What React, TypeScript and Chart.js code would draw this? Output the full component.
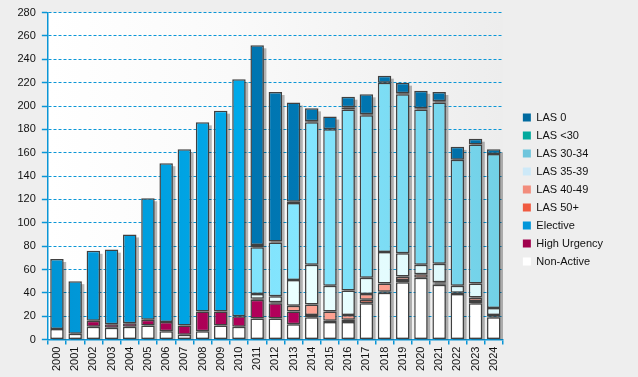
import React, { useEffect, useRef } from "react";
import { Chart, registerables } from "chart.js";

Chart.register(...registerables);

const YEARS = ["2000","2001","2002","2003","2004","2005","2006","2007","2008","2009","2010","2011","2012","2013","2014","2015","2016","2017","2018","2019","2020","2021","2022","2023","2024"];
const Y_TICKS = [0, 20, 40, 60, 80, 100, 120, 140, 160, 180, 200, 220, 240, 260, 280];

const NON_ACTIVE   = [9, 5, 11, 10, 11, 12, 7, 4, 7, 12, 11, 18, 18, 13, 19, 15, 15, 31, 40, 49, 53, 47, 39, 31, 19];
const HIGH_URGENCY = [0, 0, 5, 3, 3, 5, 8, 8, 17, 12, 9, 16, 13, 11, 0, 0, 0, 0, 0, 0, 0, 0, 1, 0, 0];
const ELECTIVE     = [60, 45, 60, 64, 76, 104, 136, 151, 162, 172, 203, 1, 1, 0, 0, 0, 0, 0, 0, 0, 0, 0, 0, 0, 0];
const LAS_50_PLUS  = [0, 0, 0, 0, 0, 0, 0, 0, 0, 0, 0, 0, 0, 0, 2, 1, 2, 3, 1, 2, 0, 1, 0, 2, 1];
const LAS_40_49    = [0, 0, 0, 0, 0, 0, 0, 0, 0, 0, 0, 0, 0, 5, 9, 8, 4, 5, 7, 3, 3, 1, 0, 3, 1];
const LAS_35_39    = [0, 0, 0, 0, 0, 0, 0, 0, 0, 0, 0, 4, 5, 22, 34, 22, 21, 14, 27, 20, 8, 16, 6, 12, 6];
const LAS_30_34    = [0, 0, 0, 0, 0, 0, 0, 0, 0, 0, 0, 40, 46, 66, 122, 134, 155, 139, 145, 136, 133, 138, 108, 119, 132];
const LAS_UNDER_30 = [0, 0, 0, 0, 0, 0, 0, 0, 0, 0, 0, 2, 1, 1, 1, 0, 2, 1, 0, 1, 1, 1, 0, 0, 0];
const LAS_0        = [0, 0, 0, 0, 0, 0, 0, 0, 0, 0, 0, 171, 128, 85, 11, 11, 9, 17, 6, 9, 15, 8, 11, 5, 4];

const SERIES_LABELS = ["Non-Active", "High Urgency", "Elective", "LAS 50+", "LAS 40-49", "LAS 35-39", "LAS 30-34", "LAS <30", "LAS 0"];
const SERIES_VALUES = [NON_ACTIVE, HIGH_URGENCY, ELECTIVE, LAS_50_PLUS, LAS_40_49, LAS_35_39, LAS_30_34, LAS_UNDER_30, LAS_0];

const BAR_SHADES = [
  ["#FFFFFF", "#FFFFFF", "#FFFFFF"],
  ["#A0004E", "#B4005C", "#A80054"],
  ["#0094D4", "#00B0F0", "#00A6E4"],
  ["#F05A3C", "#FF6444", "#F45C40"],
  ["#F49484", "#FFA393", "#F89888"],
  ["#E6FAFF", "#EAFFFF", "#DCF8FC"],
  ["#74D4EC", "#84E6FF", "#72D0E6"],
  ["#00A89C", "#00BCB0", "#00A89C"],
  ["#0068A0", "#0078B4", "#006EA6"],
];
const LEGEND_COLORS = ["#FFFFFF", "#A0004C", "#0096DA", "#F05A40", "#F28C7C", "#CDE9F8", "#6EC5DC", "#00A99D", "#006A9F"];

const FONT = "'Liberation Sans', Arial, sans-serif";
const AXIS_BLUE = "#0A96D6";

const bgPlugin = {
  id: "bgPlugin",
  beforeDraw(chart: any) {
    const { ctx, chartArea } = chart;
    if (!chartArea) return;
    ctx.save();
    ctx.fillStyle = "#EEEEEE";
    ctx.fillRect(0, 0, chart.width, chart.height);
    const g = ctx.createLinearGradient(chartArea.left, 0, chartArea.right, 0);
    g.addColorStop(0, "#FFFFFF");
    g.addColorStop(0.4, "#FAFAFA");
    g.addColorStop(1, "#EDEDED");
    ctx.fillStyle = g;
    ctx.fillRect(chartArea.left, chartArea.top, chartArea.right - chartArea.left, chartArea.bottom - chartArea.top);
    ctx.restore();
  },
};

const shadowPlugin = {
  id: "shadowPlugin",
  beforeDatasetsDraw(chart: any) {
    const { ctx } = chart;
    const y = chart.scales.y;
    const meta = chart.getDatasetMeta(0);
    ctx.save();
    ctx.fillStyle = "rgba(0,0,0,0.28)";
    meta.data.forEach((el: any, i: number) => {
      let total = 0;
      chart.data.datasets.forEach((ds: any) => { total += ds.data[i] || 0; });
      const top = y.getPixelForValue(total);
      const bottom = y.getPixelForValue(0);
      const w = el.width;
      ctx.fillRect(el.x - w / 2 + 2.5, top + 3, w, bottom - top - 3);
    });
    ctx.restore();
  },
};

export default function App() {
  const ref = useRef<HTMLCanvasElement | null>(null);
  useEffect(() => {
    document.body.style.margin = "0";
    document.body.style.background = "#EEEEEE";
    const canvas = ref.current!;
    const datasets = SERIES_LABELS.map((label, i) => ({
      label,
      data: SERIES_VALUES[i],
      backgroundColor: (c: any) => {
        const area = c.chart.chartArea;
        if (!area) return BAR_SHADES[i][1];
        const g = c.chart.ctx.createLinearGradient(area.left, 0, area.right, 0);
        g.addColorStop(0, BAR_SHADES[i][0]);
        g.addColorStop(0.55, BAR_SHADES[i][1]);
        g.addColorStop(1, BAR_SHADES[i][2]);
        return g;
      },
      borderColor: "#404040",
      borderWidth: 1.5,
      borderSkipped: false,
      categoryPercentage: 0.74,
      barPercentage: 1,
    }));
    const chart = new Chart(canvas, {
      type: "bar",
      data: { labels: YEARS, datasets },
      plugins: [bgPlugin, shadowPlugin],
      options: {
        responsive: false,
        animation: false,
        layout: { padding: { left: 11.5, top: 6, right: 25, bottom: 4 } },
        scales: {
          x: {
            stacked: true,
            offset: true,
            grid: { display: true, drawOnChartArea: false, drawTicks: true, tickLength: 5, color: AXIS_BLUE, lineWidth: 1.5, offset: true },
            border: { display: true, color: AXIS_BLUE, width: 1.5 },
            ticks: { minRotation: 90, maxRotation: 90, autoSkip: false, color: "#111", font: { family: FONT, size: 11 }, padding: 2 },
          },
          y: {
            stacked: true,
            min: 0,
            max: 280,
            afterBuildTicks: (scale: any) => { scale.ticks = Y_TICKS.map((v) => ({ value: v })); },
            grid: { color: AXIS_BLUE, lineWidth: 1, drawTicks: true, tickLength: 6, tickColor: AXIS_BLUE, tickWidth: 1.5, tickBorderDash: [] },
            border: { display: true, color: AXIS_BLUE, width: 1.5, dash: [3, 2] },
            ticks: { color: "#111", font: { family: FONT, size: 11 }, padding: 6 },
          },
          spacer: {
            type: "linear",
            position: "right",
            display: true,
            min: 0,
            max: 1,
            grid: { display: false, drawOnChartArea: false },
            border: { display: false },
            ticks: { display: false },
            afterFit: (s: any) => { s.width = 13; },
          },
        },
        plugins: {
          tooltip: { enabled: false },
          legend: {
            position: "right",
            reverse: true,
            labels: {
              boxWidth: 8,
              boxHeight: 8,
              padding: 7,
              color: "#111",
              font: { family: FONT, size: 11 },
              generateLabels: (ch: any) =>
                ch.data.datasets.map((ds: any, i: number) => ({
                  text: ds.label,
                  fillStyle: LEGEND_COLORS[i],
                  strokeStyle: LEGEND_COLORS[i],
                  lineWidth: 0,
                  hidden: false,
                  datasetIndex: i,
                  fontColor: "#111",
                })),
            },
          },
        },
      },
    } as any);
    return () => chart.destroy();
  }, []);
  return <canvas ref={ref} width={638} height={377} style={{ display: "block" }} />;
}
